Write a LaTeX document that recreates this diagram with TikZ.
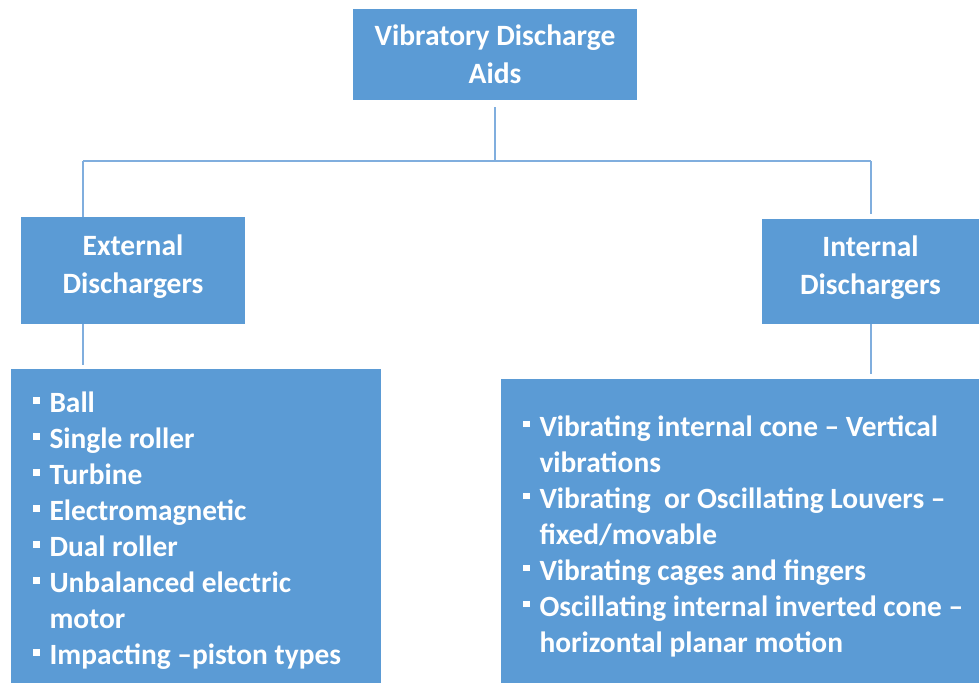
\documentclass[tikz,border=0pt]{standalone}
\usepackage{fontspec}
\setmainfont{Carlito}
\usetikzlibrary{positioning, calc}
\definecolor{boxblue}{RGB}{91,155,213}
\definecolor{lineblue}{RGB}{128,174,222}
\newcommand{\sqbul}{\makebox[16.5pt][l]{\raisebox{9pt}{\rule{6.5pt}{6.5pt}}}}
\newcommand{\hang}{\hspace*{16.5pt}}

\begin{document}
\begin{tikzpicture}[
            x=1pt, y=-1pt,
            box/.style={rectangle, fill=boxblue, inner sep=0pt, text=white, align=center,
              font=\bfseries\fontsize{29.5}{38}\selectfont},
            items/.style={anchor=west, inner sep=0pt, text=white, align=left,
              font=\bfseries\fontsize{29.4}{36}\selectfont},
            conn/.style={draw=lineblue, line width=1.5pt}
        ]
            \useasboundingbox (0,0) rectangle (979,683);

            % --- boxes ---
            \node[box, minimum width=284pt, minimum height=91pt] (vda) at (495,54.5) {Vibratory Discharge\\Aids};
            \node[box, minimum width=224pt, minimum height=107pt, text depth=13pt] (ext) at (133,270.5) {External\\Dischargers};
            \node[box, minimum width=217pt, minimum height=105pt, text depth=13pt] (int) at (870.5,271.5) {Internal\\Dischargers};
            \node[box, minimum width=370pt, minimum height=314pt] (extlist) at (196,526) {};
            \node[box, minimum width=478pt, minimum height=304pt] (intlist) at (740,531) {};

            % --- lists ---
            \node[items, right=22pt of extlist.west, yshift=-5pt] (extitems) {%
              \sqbul Ball\\
              \sqbul Single roller\\
              \sqbul Turbine\\
              \sqbul Electromagnetic\\
              \sqbul Dual roller\\
              \sqbul Unbalanced electric\\
              \hang motor\\
              \sqbul Impacting --piston types};
            \node[items, right=22pt of intlist.west, yshift=-5pt] (intitems) {%
              \sqbul Vibrating internal cone -- Vertical\\
              \hang vibrations\\
              \sqbul Vibrating\ \ or Oscillating Louvers --\\
              \hang fixed/movable\\
              \sqbul Vibrating cages and fingers\\
              \sqbul Oscillating internal inverted cone --\\
              \hang horizontal planar motion};

            % --- connectors ---
            \coordinate (busL) at (83,161);
            \coordinate (busR) at (871,161);
            \draw[conn] ([yshift=-7pt]vda.south) -- (vda.south |- busL);
            \draw[conn] (busL) -- (busR);
            \draw[conn] (busL) -- (busL |- ext.north);
            \draw[conn] (busR) -- ([yshift=5pt]busR |- int.north);
            \draw[conn] (busL |- ext.south) -- ([yshift=4pt]busL |- extlist.north);
            \draw[conn] (busR |- int.south) -- ([yshift=5pt]busR |- intlist.north);

\end{tikzpicture}
\end{document}
